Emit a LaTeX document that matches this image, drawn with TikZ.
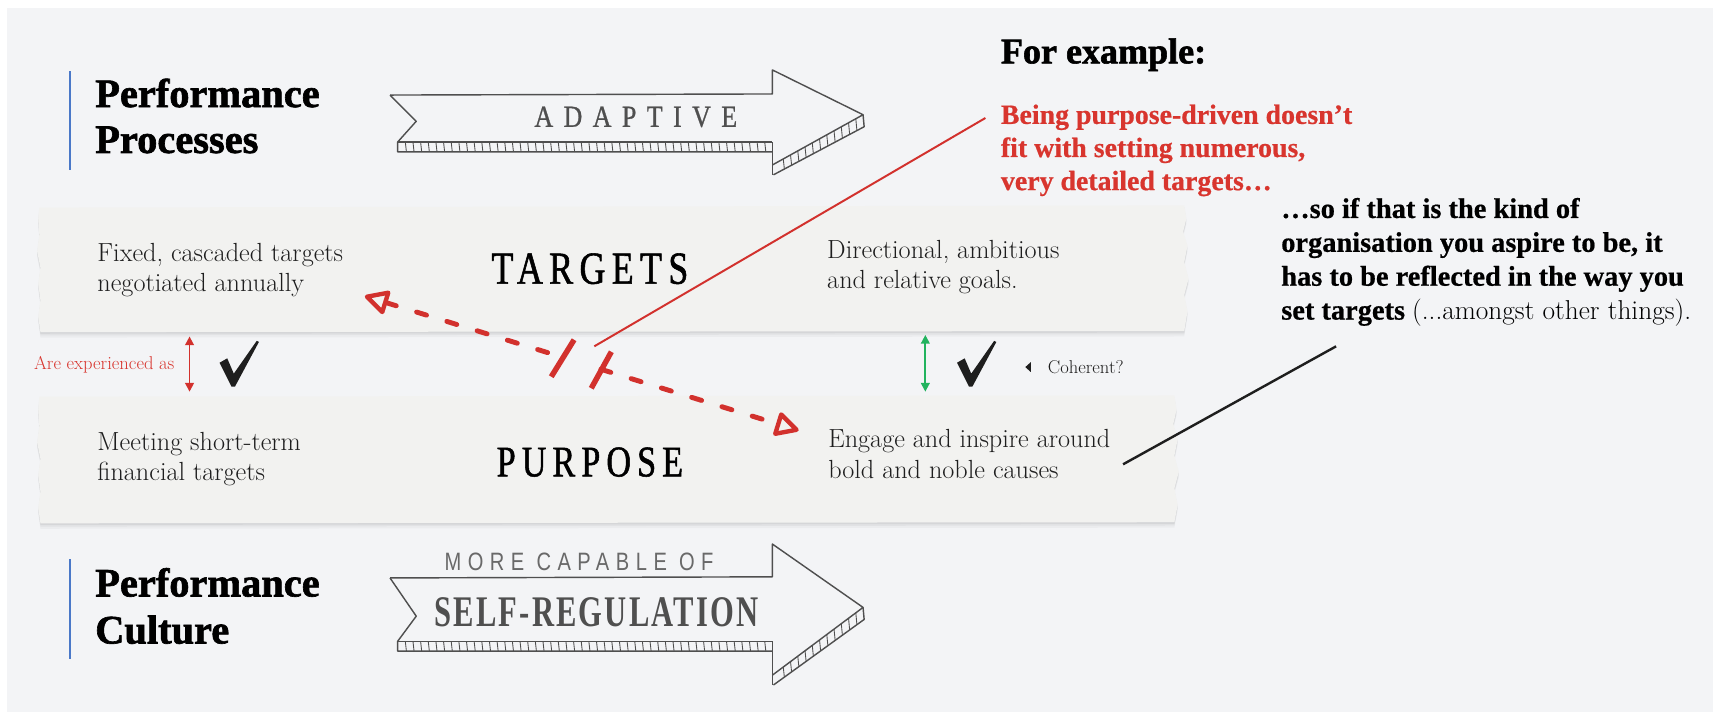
\documentclass[tikz,border=0pt]{standalone}
\usepackage{fontspec}
\usetikzlibrary{arrows.meta,calc}
\newfontfamily\headfont{Liberation Serif}[BoldFeatures={FakeBold=1.6}]
\newfontfamily\notefont{Liberation Serif}[BoldFeatures={FakeBold=0.6}]
\newfontfamily\decofont[FakeStretch=0.78,LetterSpace=14,FakeBold=1.2]{Liberation Serif}
\newfontfamily\adaptfont[FakeStretch=0.85,LetterSpace=34,FakeBold=0.8]{Liberation Serif}
\newfontfamily\selffont[FakeStretch=0.7,LetterSpace=5]{Liberation Serif}
\newfontfamily\handfont[FakeStretch=0.8,LetterSpace=26]{Liberation Sans}
\definecolor{bg}{HTML}{F3F4F6}
\definecolor{strip}{HTML}{F2F2F0}
\definecolor{pencil}{HTML}{4F4F4F}
\definecolor{redline}{HTML}{D2312D}
\definecolor{redtext}{HTML}{D8352E}
\definecolor{greenarrow}{HTML}{22B35E}
\definecolor{barblue}{HTML}{4A78C8}
\definecolor{inktext}{HTML}{1E1E1E}
% hand drawn ribbon arrow: #1 body top, #2 band top, #3 head top, #4 tip y, #5 head bottom, #6 notch y
\newcommand\handarrow[6]{%
  \begin{scope}[pencil, line width=1.3pt, line join=round]
    \draw (357,#1) -- (707,#1-1) -- (707,#3) -- (790,#4) -- (707,#5-9);
    \draw (357,#1) -- (381,#6) -- (364,#2) -- (364,#2+9) -- (707,#2+9);
    \draw (364,#2) -- (707,#2);
    \draw (707,#2) -- (707,#5);
    \draw (790,#4) -- (791,#4+11) -- (708,#5);
    \foreach \hx in {371,378,...,700} \draw[line width=0.8pt] (\hx,#2) -- (\hx+1,#2+9);
    \foreach \ht in {0.08,0.16,...,0.95} \draw[line width=0.8pt] ($(790,#4)!\ht!(707,#5-9)$) -- ($(791,#4+11)!\ht!(708,#5)$);
  \end{scope}}
\newcommand\checkmk[2]{\fill[inktext,shift={(#1,#2)}] (-1,0) -- (-12,-22) -- (-5,-26) -- (1,-12) -- (22,-42) -- (24,-41) -- (2,0) -- cycle;}
\tikzset{
  heading/.style={font=\headfont\bfseries\fontsize{37}{42}\selectfont, inner sep=0pt, text=black},
  bodytxt/.style={font=\fontsize{24}{28}\selectfont, inner sep=0pt, align=left, text=inktext},
  bigword/.style={font=\decofont\fontsize{42}{46}\selectfont, inner sep=0pt, text=black},
  smalltxt/.style={font=\fontsize{17}{19}\selectfont, inner sep=0pt},
  stripfill/.style={fill=strip},
  redarrowline/.style={redline, line width=4.5pt, dash pattern=on 9.5pt off 19.5pt, line cap=round},
}
\begin{document}
\begin{tikzpicture}[x=1pt,y=-1pt]
\useasboundingbox (0,0) rectangle (1568,654);
\fill[white] (0,0) rectangle (1568,654);
\fill[bg] (6,7) rectangle (1568,652);

% blue bars
\draw[barblue, line width=2pt] (64,65) -- (64,156);
\draw[barblue, line width=2pt] (64,512) -- (64,603);

% headings
\node[heading, anchor=base west] (pp1) at (87,98) {Performance};
\node[heading, anchor=base west] (pp2) at (87,140) {Processes};
\node[heading, anchor=base west] (pc1) at (87,546) {Performance};
\node[heading, anchor=base west] (pc2) at (87,589) {Culture};

% ribbon arrows
\handarrow{87}{130}{64}{105}{160}{111}
\handarrow{529}{587}{498}{556}{627}{564}
\node[font=\adaptfont\fontsize{28}{30}\selectfont, text=pencil, inner sep=0pt] (adaptive) at (582,107) {ADAPTIVE};
\node[font=\handfont\fontsize{23}{26}\selectfont, text=pencil!85, inner sep=0pt] (capable) at (530,514) {MORE CAPABLE OF};
\node[font=\selffont\bfseries\fontsize{40}{44}\selectfont, text=pencil, inner sep=0pt] (selfreg) at (546,560) {SELF-REGULATION};

% strips (shadows first)
\foreach \dy/\op in {5/0.03,3/0.04,1.5/0.05}{
  \fill[black, opacity=\op, shift={(0,\dy)}] (36,190) -- (1084,188) -- (1086,200) -- (1083,212) -- (1087,225) -- (1084,240) -- (1088,255) -- (1084,270) -- (1087,285) -- (1084,303) -- (37,304) -- (35,290) -- (37,275) -- (35,260) -- (37,245) -- (34,230) -- (36,215) -- (35,200) -- cycle;
  \fill[black, opacity=\op, shift={(0,\dy)}] (36,363) -- (1075,362) -- (1077,375) -- (1074,388) -- (1078,402) -- (1075,417) -- (1079,432) -- (1075,447) -- (1078,462) -- (1075,478) -- (37,479) -- (35,465) -- (37,450) -- (35,435) -- (37,420) -- (34,405) -- (36,390) -- (35,375) -- cycle;
}
\fill[stripfill] (36,190) -- (1084,188) -- (1086,200) -- (1083,212) -- (1087,225) -- (1084,240) -- (1088,255) -- (1084,270) -- (1087,285) -- (1084,303) -- (37,304) -- (35,290) -- (37,275) -- (35,260) -- (37,245) -- (34,230) -- (36,215) -- (35,200) -- cycle;
\fill[stripfill] (36,363) -- (1075,362) -- (1077,375) -- (1074,388) -- (1078,402) -- (1075,417) -- (1079,432) -- (1075,447) -- (1078,462) -- (1075,478) -- (37,479) -- (35,465) -- (37,450) -- (35,435) -- (37,420) -- (34,405) -- (36,390) -- (35,375) -- cycle;

% strip texts (base anchor = last line)
\node[bodytxt, anchor=base west] (fixed) at (89,267) {Fixed, cascaded targets\\negotiated annually};
\node[bodytxt, anchor=base west] (direct) at (757,264.5) {Directional, ambitious\\and relative goals.};
\node[bodytxt, anchor=base west] (meeting) at (89,440) {Meeting short-term\\financial targets};
\node[bodytxt, anchor=base west] (engage) at (758,438) {Engage and inspire around\\bold and noble causes};
\node[bigword] (targets) at (540,246) {TARGETS};
\node[bigword, font=\decofont\fontsize{40}{44}\selectfont] (purpose) at (540,423) {PURPOSE};

% middle: experienced as
\node[smalltxt, text=redtext, anchor=base west] (exp) at (31,338) {Are experienced as};
\coordinate (expTop) at (173.5,308);
\coordinate (expBot) at (173.5,358.5);
\draw[redline, line width=1.6pt, {Triangle[length=8pt,width=8pt]}-{Triangle[length=8pt,width=8pt]}] (expTop) -- (expBot);
\checkmk{213}{354}

% coherent
\coordinate (cohTop) at (847,306.6);
\coordinate (cohBot) at (847,358.5);
\draw[greenarrow, line width=1.6pt, {Triangle[length=8pt,width=8pt]}-{Triangle[length=8pt,width=8pt]}] (cohTop) -- (cohBot);
\checkmk{888}{354}
\fill[inktext] (938.5,336) -- (943.5,331.5) -- (943.5,340.5) -- cycle;
\node[smalltxt, text=inktext, anchor=base west] (coh) at (959,341.5) {Coherent?};

% red dashed broken connector
\coordinate (tgtEnd) at (334,271);
\coordinate (brkA) at (515,327);
\coordinate (brkB) at (550,338);
\coordinate (purEnd) at (731,394);
\draw[redarrowline, {Triangle[open, length=24pt, width=24pt, line width=4pt, round]}-] (tgtEnd) -- (brkA);
\draw[redarrowline, -{Triangle[open, length=24pt, width=24pt, line width=4pt, round]}] (brkB) -- (purEnd);
\coordinate (barAtop) at (525.5,311);
\coordinate (barAbot) at (504.6,344.8);
\coordinate (barBtop) at (559.6,322);
\coordinate (barBbot) at (541.2,355.4);
\draw[redline, line width=5pt] (barAtop) -- (barAbot);
\draw[redline, line width=5pt] (barBtop) -- (barBbot);

% right side texts
\node[font=\headfont\bfseries\fontsize{33}{38}\selectfont, inner sep=0pt, anchor=base west] (forex) at (916,58) {For example:};
\node[font=\notefont\bfseries\fontsize{25.5}{30.3}\selectfont, text=redtext, inner sep=0pt, align=left, anchor=base west] (redtxt) at (916,174) {Being purpose-driven doesn’t\\fit with setting numerous,\\very detailed targets…};
\node[font=\notefont\fontsize{26}{31}\selectfont, text=black, inner sep=0pt, align=left, anchor=base west] (blacktxt) at (1172.6,292.5) {\bfseries …so if that is the kind of\\\bfseries organisation you aspire to be, it\\\bfseries has to be reflected in the way you\\{\bfseries set targets} {\fontspec{Latin Modern Roman}\fontsize{25}{31}\selectfont(...amongst other things).}};

% pointer lines
\coordinate (redA) at (544,317);
\coordinate (redB) at (902,108);
\draw[redline, line width=1.8pt] (redA) -- (redB);
\coordinate (blkA) at (1028,425);
\coordinate (blkB) at (1223,317);
\draw[inktext, line width=2.2pt] (blkA) -- (blkB);
\end{tikzpicture}
\end{document}
